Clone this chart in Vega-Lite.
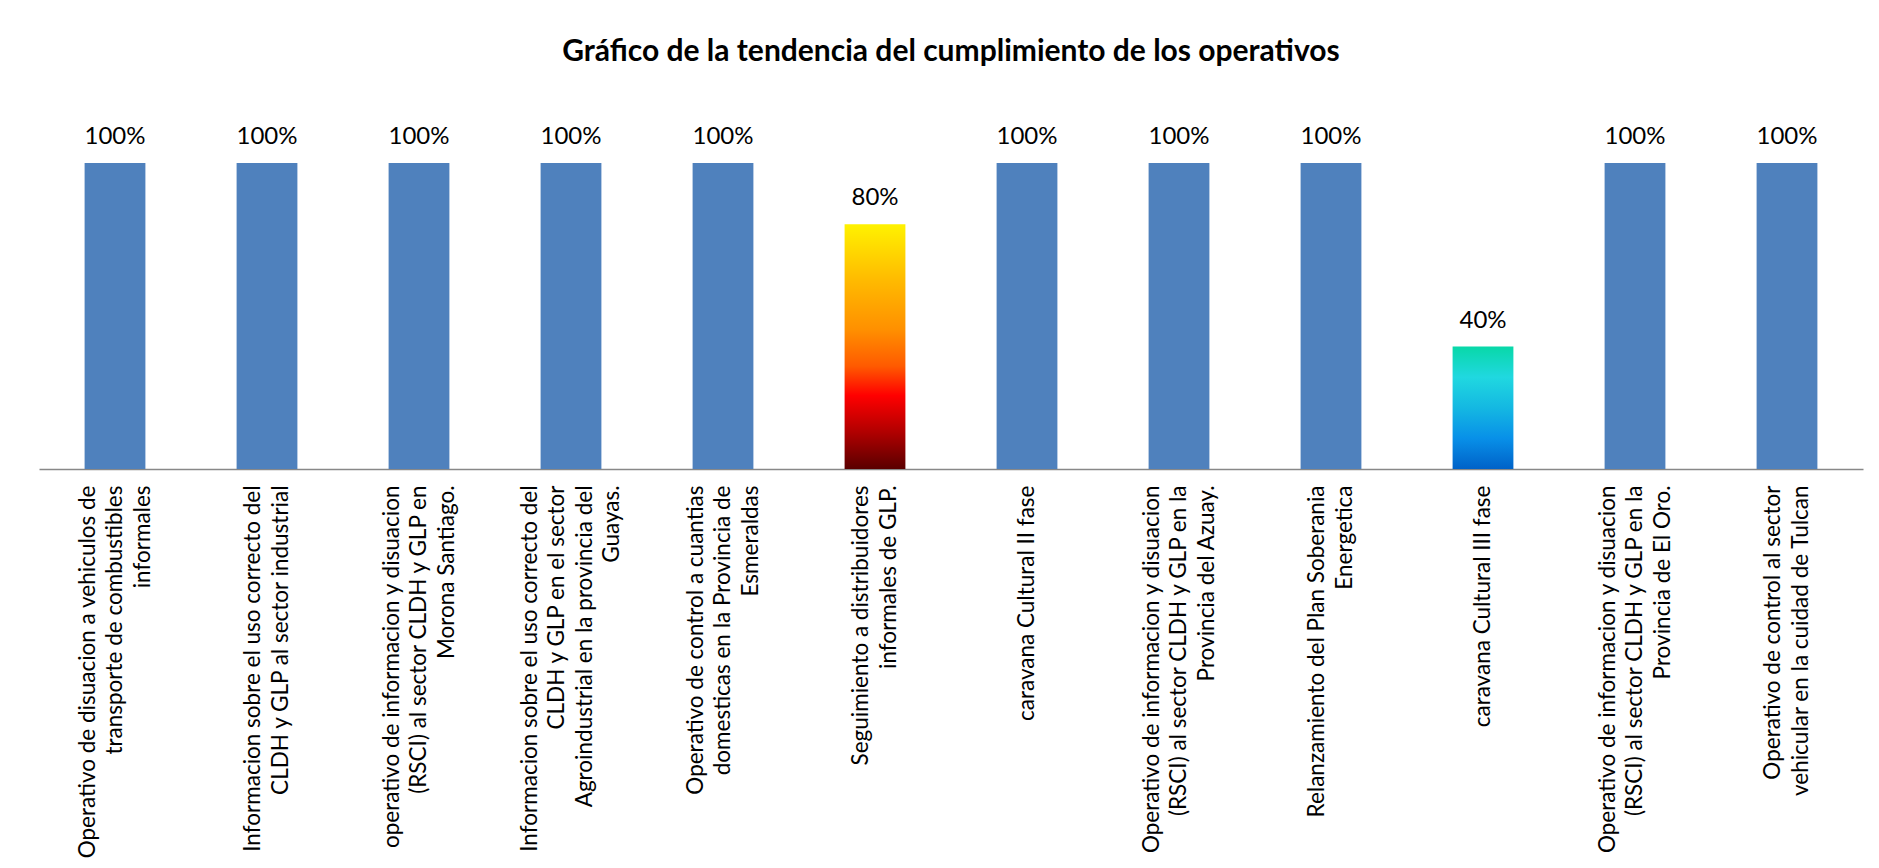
{
  "$schema": "https://vega.github.io/schema/vega-lite/v6.json",
  "width": 1824,
  "height": 306,
  "autosize": {"type": "none"},
  "padding": {"left": 39, "right": 16, "top": 163, "bottom": 399},
  "background": "white",
  "title": {
    "text": "Gráfico de la tendencia del cumplimiento de los operativos",
    "font": "Lato",
    "fontSize": 30,
    "fontWeight": "bold",
    "color": "#000000",
    "anchor": "middle",
    "offset": 58
  },
  "data": {
    "values": [
      {"operativo": "Operativo de disuacion a vehiculos de\ntransporte de combustibles\ninformales", "cumplimiento": 1},
      {"operativo": "Informacion sobre el uso correcto del\nCLDH y GLP al sector industrial", "cumplimiento": 1},
      {"operativo": "operativo de informacion y disuacion\n(RSCI) al sector CLDH y GLP en\nMorona Santiago.", "cumplimiento": 1},
      {"operativo": "Informacion sobre el uso correcto del\nCLDH y GLP en el sector\nAgroindustrial en la provincia del\nGuayas.", "cumplimiento": 1},
      {"operativo": "Operativo de control a cuantias\ndomesticas en la Provincia de\nEsmeraldas", "cumplimiento": 1},
      {"operativo": "Seguimiento a distribuidores\ninformales de GLP.", "cumplimiento": 0.8},
      {"operativo": "caravana Cultural II fase", "cumplimiento": 1},
      {"operativo": "Operativo de informacion y disuacion\n(RSCI) al sector CLDH y GLP en la\nProvincia del Azuay.", "cumplimiento": 1},
      {"operativo": "Relanzamiento del Plan Soberania\nEnergetica", "cumplimiento": 1},
      {"operativo": "caravana Cultural III fase", "cumplimiento": 0.4},
      {"operativo": "Operativo de informacion y disuacion\n(RSCI) al sector CLDH y GLP en la\nProvincia de El Oro.", "cumplimiento": 1},
      {"operativo": "Operativo de control al sector\nvehicular en la cuidad de Tulcan", "cumplimiento": 1}
    ]
  },
  "encoding": {
    "x": {
      "field": "operativo",
      "type": "nominal",
      "sort": null,
      "scale": {"paddingInner": 0.6, "paddingOuter": 0.3},
      "axis": {
        "title": null,
        "labelAngle": -90,
        "labelAlign": "right",
        "labelBaseline": "middle",
        "labelExpr": "split(datum.label, '\\n')",
        "labelFont": "Lato",
        "labelFontSize": 22.5,
        "labelLineHeight": 27.5,
        "labelColor": "#000000",
        "labelPadding": 16,
        "labelOffset": {
          "condition": [
            {"test": "length(split(datum.label, '\\n')) == 2", "value": -13.75},
            {"test": "length(split(datum.label, '\\n')) == 3", "value": -27.5},
            {"test": "length(split(datum.label, '\\n')) == 4", "value": -41.25}
          ],
          "value": 0
        },
        "labelLimit": 0,
        "labelOverlap": false,
        "ticks": false,
        "grid": false,
        "domainColor": "#888888",
        "domainWidth": 1.5
      }
    },
    "y": {
      "field": "cumplimiento",
      "type": "quantitative",
      "scale": {"domain": [0, 1], "nice": false},
      "axis": null
    }
  },
  "layer": [
    {
      "mark": {"type": "bar"},
      "encoding": {
        "fill": {
          "condition": [
            {
              "test": "datum.cumplimiento == 0.8",
              "value": {
                "gradient": "linear", "x1": 0, "y1": 0, "x2": 0, "y2": 1,
                "stops": [
                  {"offset": 0, "color": "#FFF200"},
                  {"offset": 0.23, "color": "#FFBA00"},
                  {"offset": 0.43, "color": "#FF9000"},
                  {"offset": 0.58, "color": "#FF5A00"},
                  {"offset": 0.7, "color": "#FF0000"},
                  {"offset": 0.85, "color": "#B00000"},
                  {"offset": 1, "color": "#5A0000"}
                ]
              }
            },
            {
              "test": "datum.cumplimiento == 0.4",
              "value": {
                "gradient": "linear", "x1": 0, "y1": 0, "x2": 0, "y2": 1,
                "stops": [
                  {"offset": 0, "color": "#08D8A8"},
                  {"offset": 0.25, "color": "#20D8E0"},
                  {"offset": 0.5, "color": "#14B8E2"},
                  {"offset": 0.75, "color": "#0890E8"},
                  {"offset": 1, "color": "#0062C8"}
                ]
              }
            }
          ],
          "value": "#4F81BD"
        }
      }
    },
    {
      "mark": {
        "type": "text",
        "font": "Lato",
        "fontSize": 24,
        "color": "#000000",
        "baseline": "alphabetic",
        "dy": -19
      },
      "encoding": {
        "text": {"field": "cumplimiento", "type": "quantitative", "format": ".0%"}
      }
    }
  ],
  "config": {
    "view": {"stroke": null}
  }
}
